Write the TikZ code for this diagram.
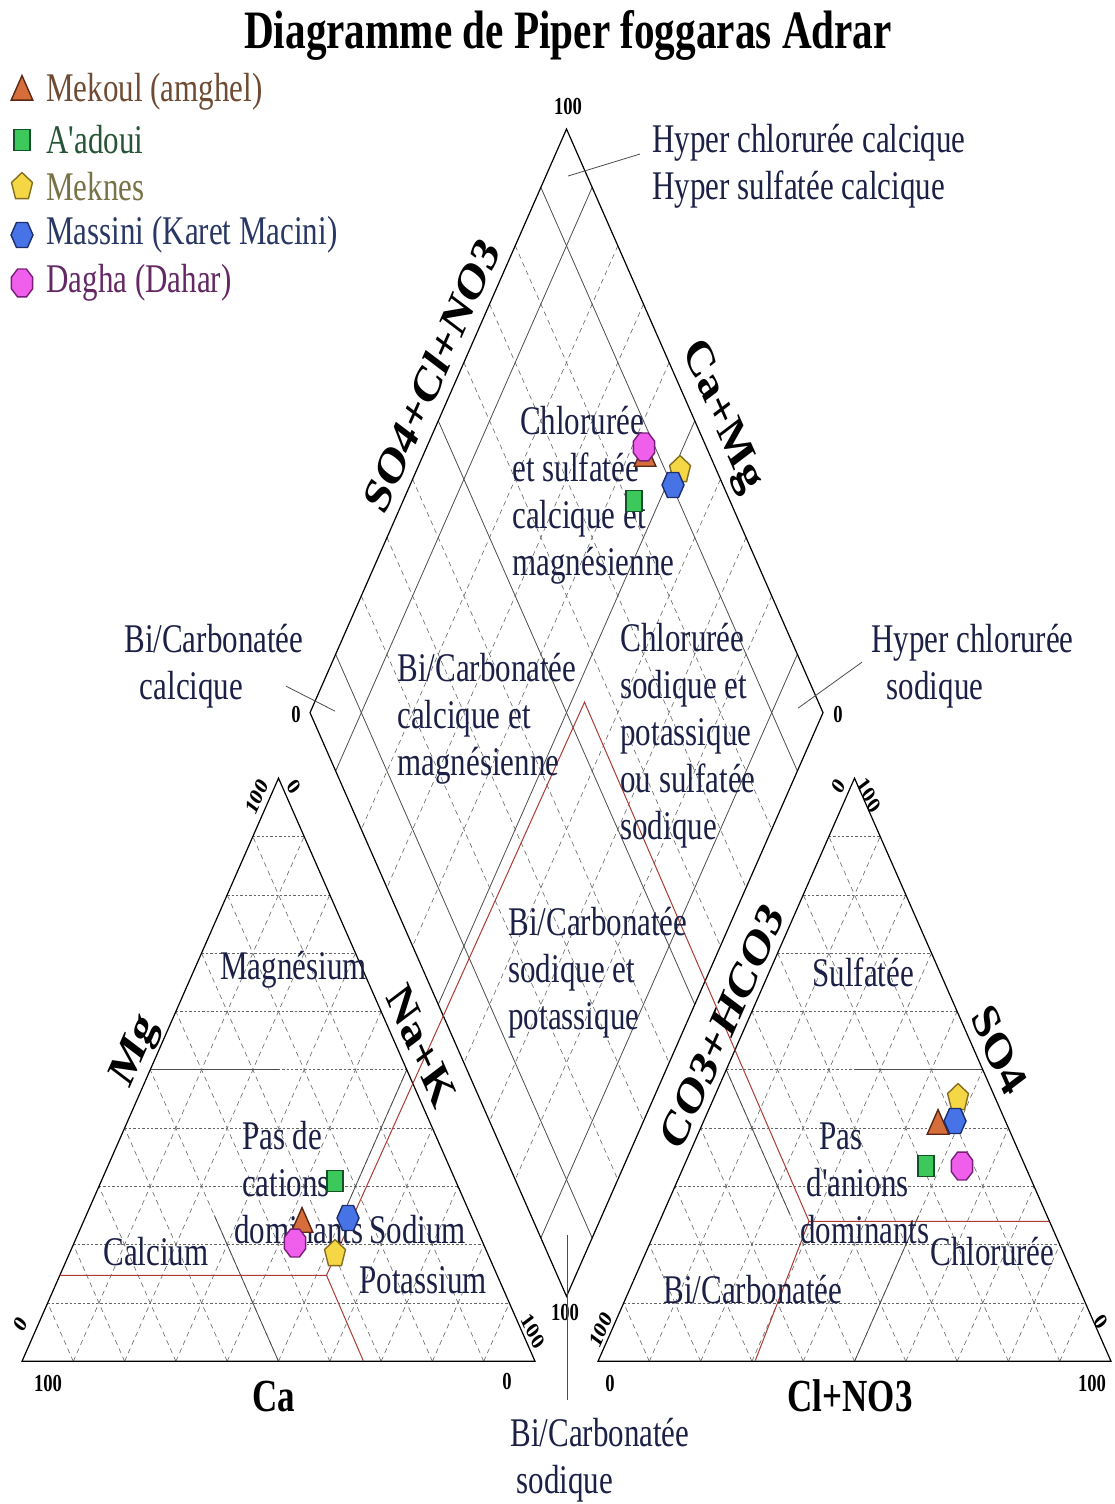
\documentclass[tikz,border=0pt]{standalone}
\usepackage{fontspec}
\setmainfont{Liberation Serif}[Ligatures=TeXOff]
\usetikzlibrary{calc,shapes.geometric}
\definecolor{navy}{RGB}{28,32,70}
\definecolor{rouge}{RGB}{170,60,50}
\definecolor{mekF}{RGB}{214,110,60}\definecolor{mekD}{RGB}{90,40,20}\definecolor{mekT}{RGB}{110,75,50}
\definecolor{aadF}{RGB}{60,200,90}\definecolor{aadD}{RGB}{20,80,40}\definecolor{aadT}{RGB}{40,85,55}
\definecolor{mknF}{RGB}{245,215,70}\definecolor{mknD}{RGB}{130,110,30}\definecolor{mknT}{RGB}{120,115,70}
\definecolor{masF}{RGB}{70,115,230}\definecolor{masD}{RGB}{30,45,110}\definecolor{masT}{RGB}{40,55,100}
\definecolor{dagF}{RGB}{240,95,235}\definecolor{dagD}{RGB}{120,30,120}\definecolor{dagT}{RGB}{100,40,100}
\begin{document}
\begin{tikzpicture}[x=0.5pt, y=-0.3808pt, yscale=1.313,
		every node/.append style={transform shape},
		zone/.style={text=navy, font=\fontsize{15.5}{17.9}\selectfont, align=left, anchor=west, inner sep=0pt},
		leg/.style={font=\fontsize{15.5}{17.9}\selectfont, anchor=west, inner sep=0pt},
		axe/.style={font=\bfseries\fontsize{19.5}{20}\selectfont, inner sep=0pt},
		axeb/.style={font=\bfseries\fontsize{17.5}{18}\selectfont, inner sep=0pt},
		grad/.style={font=\bfseries\fontsize{9.3}{10}\selectfont, inner sep=0pt},
		bord/.style={line width=0.6pt},
		fin/.style={black!60, line width=0.3pt, dash pattern=on 1.2pt off 1pt},
		tiret/.style={black!60, line width=0.3pt, dash pattern=on 2.5pt off 2pt},
		classe/.style={black!70, line width=0.4pt},
		ligne/.style={rouge, line width=0.5pt},
		mk/.style={line width=0.7pt, inner sep=0pt},
		mek/.style={mk, regular polygon, regular polygon sides=3, minimum size=12.5pt, fill=mekF, draw=mekD},
		aad/.style={mk, rectangle, minimum size=8pt, fill=aadF, draw=aadD},
		mkn/.style={mk, regular polygon, regular polygon sides=5, minimum size=11pt, fill=mknF, draw=mknD},
		mas/.style={mk, regular polygon, regular polygon sides=6, minimum size=11pt, fill=masF, draw=masD},
		dag/.style={mk, regular polygon, regular polygon sides=8, minimum size=11.5pt, fill=dagF, draw=dagD}]
	\path [use as bounding box, fill=white] (0,0) rectangle (1114,1504);
	\node [font=\bfseries\fontsize{20.6}{22}\selectfont] (titre) at (568,35) {Diagramme de Piper foggaras Adrar};
	% legende
	\node [mek] (lg1) at (22,92) {};
	\node [aad] (lg2) at (22,140) {};
	\node [mkn] (lg3) at (22,187) {};
	\node [mas] (lg4) at (22,235) {};
	\node [dag] (lg5) at (22,283) {};
	\node [leg, text=mekT] (lt1) at (46,92) {Mekoul (amghel)};
	\node [leg, text=aadT] (lt2) at (46,140) {A'adoui};
	\node [leg, text=mknT] (lt3) at (46,187) {Meknes};
	\node [leg, text=masT] (lt4) at (46,235) {Massini (Karet Macini)};
	\node [leg, text=dagT] (lt5) at (46,283) {Dagha (Dahar)};
	% sommets
	\coordinate (L1) at (22,1361);
	\coordinate (L2) at (535,1361);
	\coordinate (L3) at (278.5,778);
	\coordinate (R1) at (598,1361);
	\coordinate (R2) at (1111,1361);
	\coordinate (R3) at (854.5,778);
	\coordinate (T) at (566.5,129);
	\coordinate (Lf) at (310,712.5);
	\coordinate (Rt) at (823,712.5);
	\coordinate (B) at (566.5,1296);
	\foreach \k in {1,...,9}{
		\pgfmathsetmacro{\f}{\k/10}
		\draw [fin] ($(L1)!\f!(L3)$)--($(L2)!\f!(L3)$);
		\draw [tiret] ($(L1)!\f!(L2)$)--($(L1)!\f!(L3)$);
		\draw [tiret] ($(L2)!\f!(L1)$)--($(L2)!\f!(L3)$);
		\draw [fin] ($(R1)!\f!(R3)$)--($(R2)!\f!(R3)$);
		\draw [tiret] ($(R1)!\f!(R2)$)--($(R1)!\f!(R3)$);
		\draw [tiret] ($(R2)!\f!(R1)$)--($(R2)!\f!(R3)$);
	}
	\foreach \f in {0.2,0.3,0.4,0.6,0.7,0.8}{
		\draw [tiret] ($(T)!\f!(Lf)$)--($(Rt)!\f!(B)$);
		\draw [tiret] ($(T)!\f!(Rt)$)--($(Lf)!\f!(B)$);
	}
	\foreach \f in {0.1,0.5,0.9}{
		\draw [classe] ($(T)!\f!(Lf)$)--($(Rt)!\f!(B)$);
		\draw [classe] ($(T)!\f!(Rt)$)--($(Lf)!\f!(B)$);
	}
	\draw [classe] ($(L1)!0.5!(L3)$)--(barycentric cs:L1=0.25,L2=0.25,L3=0.5);
	\draw [classe] ($(L1)!0.5!(L2)$)--(barycentric cs:L1=0.5,L2=0.25,L3=0.25);
	\draw [classe] ($(L2)!0.5!(L3)$)--(barycentric cs:L1=0.25,L2=0.5,L3=0.25);
	\draw [classe] ($(R2)!0.5!(R3)$)--(barycentric cs:R1=0.25,R2=0.25,R3=0.5);
	\draw [classe] ($(R1)!0.5!(R3)$)--(barycentric cs:R1=0.5,R2=0.25,R3=0.25);
	\draw [classe] ($(R1)!0.5!(R2)$)--(barycentric cs:R1=0.25,R2=0.5,R3=0.25);
	\draw [bord] (L1)--(L2)--(L3)--cycle;
	\draw [bord] (R1)--(R2)--(R3)--cycle;
	\draw [bord] (T)--(Lf)--(B)--(Rt)--cycle;
	% projection
	\coordinate (Pc) at (326.5,1275);
	\coordinate (Qc) at (809,1221);
	\coordinate (V) at (584.5,702);
	\draw [ligne] ($(L1)!0.1475!(L3)$)--(Pc)--(V)--(Qc)--($(R2)!0.24!(R3)$);
	\draw [ligne] (Pc)--($(L1)!0.6657!(L2)$);
	\draw [ligne] (Qc)--($(R1)!0.306!(R2)$);
	% axes
	\node [axe, rotate=60] (aSO) at (431,375) {SO4+Cl+NO3};
	\node [axe, rotate=-60] (aCM) at (721,417) {Ca+Mg};
	\node [axe, rotate=60] (aMg) at (136,1052) {Mg};
	\node [axe, rotate=-60] (aNK) at (421,1046) {Na+K};
	\node [axe, rotate=60] (aCO) at (722,1027) {CO3+HCO3};
	\node [axe, rotate=-60] (aS4) at (999,1050) {SO4};
	\node [axeb] (aCa) at (274,1396) {Ca};
	\node [axeb] (aCl) at (850,1396) {Cl+NO3};
	% graduations
	\node [grad] (g1) at (568,107) {100};
	\node [grad] (g2) at (296,714) {0};
	\node [grad] (g3) at (838,714) {0};
	\node [grad] (g4) at (565,1312) {100};
	\node [grad, rotate=60] (g5) at (257,797) {100};
	\node [grad, rotate=-60] (g6) at (294,787) {0};
	\node [grad, rotate=60] (g7) at (21,1324) {0};
	\node [grad, rotate=-60] (g8) at (533,1331) {100};
	\node [grad] (g9) at (48,1383) {100};
	\node [grad] (g10) at (507,1381) {0};
	\node [grad, rotate=60] (g11) at (839,786) {0};
	\node [grad, rotate=-60] (g12) at (869,795) {100};
	\node [grad, rotate=60] (g13) at (601,1330) {100};
	\node [grad, rotate=-60] (g14) at (1101,1322) {0};
	\node [grad] (g15) at (610,1383) {0};
	\node [grad] (g16) at (1092,1383) {100};
	% zones
	\node [zone] (z1) at (652,166) {Hyper chlorurée calcique\\Hyper sulfatée calcique};
	\node [zone] (z2) at (124,666) {Bi/Carbonatée\\\hspace*{0.5em}calcique};
	\node [zone] (z3) at (871,666) {Hyper chlorurée\\\hspace*{0.5em}sodique};
	\node [zone] (z4) at (512,495) {\hspace*{0.25em}Chlorurée\\et sulfatée\\calcique et\\magnésienne};
	\node [zone] (z5) at (397,719) {Bi/Carbonatée\\calcique et\\magnésienne};
	\node [zone] (z6) at (620,736) {Chlorurée\\sodique et\\potassique\\ou sulfatée\\sodique};
	\node [zone] (z7) at (508,973) {Bi/Carbonatée\\sodique et\\potassique};
	\node [zone] (z8) at (220,970) {Magnésium};
	\node [zone] (z9) at (234,1183) {\hspace*{0.25em}Pas de\\\hspace*{0.25em}cations\\dominants};
	\node [zone] (z10) at (369,1230) {Sodium};
	\node [zone] (z11) at (103,1252) {Calcium};
	\node [zone] (z12) at (359,1280) {Potassium};
	\node [zone] (z13) at (812,972) {Sulfatée};
	\node [zone] (z14) at (800,1183) {\hspace*{0.6em}Pas\\\hspace*{0.2em}d'anions\\dominants};
	\node [zone] (z15) at (930,1252) {Chlorurée};
	\node [zone] (z16) at (663,1290) {Bi/Carbonatée};
	\node [zone] (z17) at (510,1460) {Bi/Carbonatée\\\hspace*{0.2em}sodique};
	% renvois
	\coordinate (r1a) at (568,176);
	\coordinate (r1b) at (640,154);
	\coordinate (r2a) at (286,686);
	\coordinate (r2b) at (335,711);
	\coordinate (r3a) at (798,708);
	\coordinate (r3b) at (862,662);
	\coordinate (r4a) at (567,1235);
	\coordinate (r4b) at (567,1400);
	\draw [classe] (r1a)--(r1b);
	\draw [classe] (r2a)--(r2b);
	\draw [classe] (r3a)--(r3b);
	\draw [classe] (r4a)--(r4b);
	% points
	\node [mek] (p1) at (302,1224) {};
	\node [aad] (p2) at (335,1181) {};
	\node [mkn] (p3) at (335,1254) {};
	\node [mas] (p4) at (348,1218) {};
	\node [dag] (p5) at (295,1243) {};
	\node [mek] (d1) at (645,458) {};
	\node [aad] (d2) at (634,501) {};
	\node [mkn] (d3) at (680,470) {};
	\node [mas] (d4) at (673,485) {};
	\node [dag] (d5) at (644,447) {};
	\node [mek] (q1) at (938,1126) {};
	\node [aad] (q2) at (926,1166) {};
	\node [mkn] (q3) at (958,1098) {};
	\node [mas] (q4) at (955,1121) {};
	\node [dag] (q5) at (962,1166) {};
\end{tikzpicture}
\end{document}
